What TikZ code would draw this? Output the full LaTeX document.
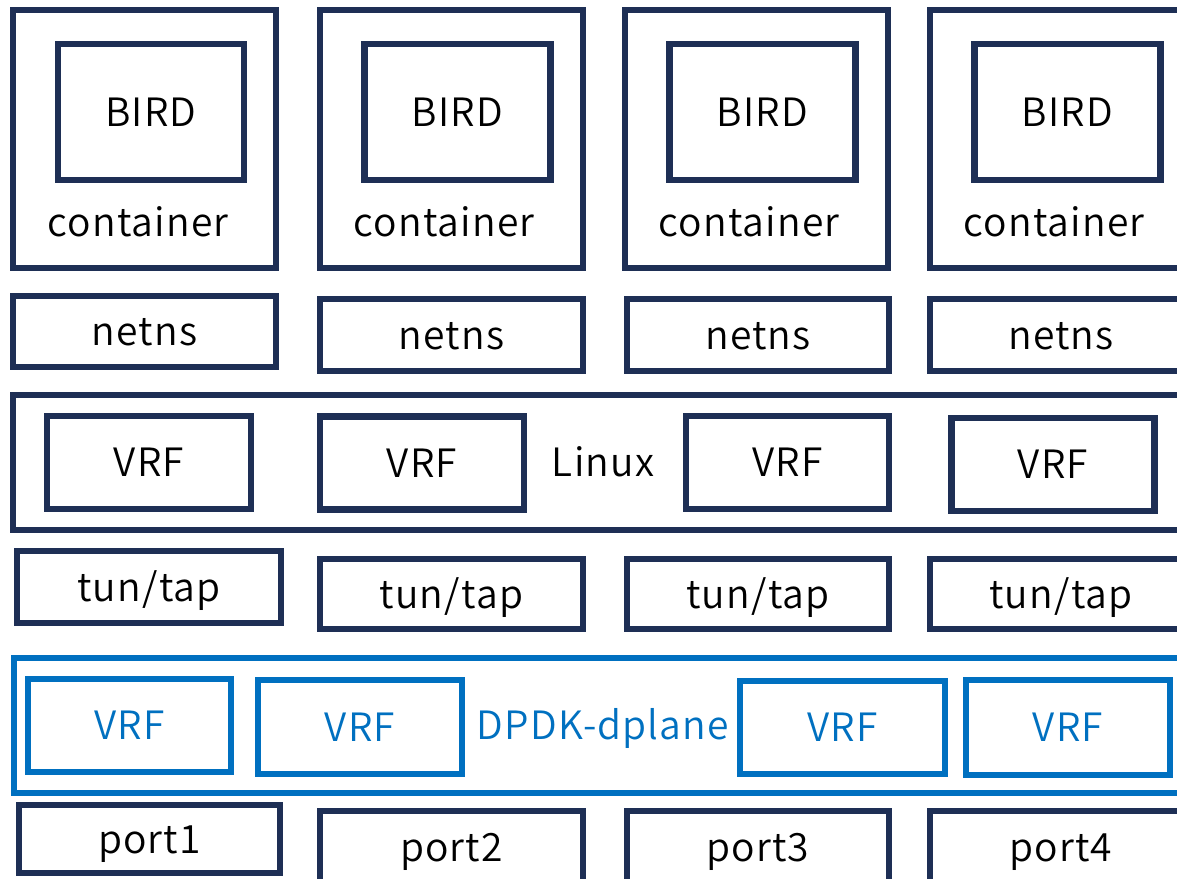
\documentclass[tikz,border=0pt]{standalone}
\usepackage{fontspec}
\setmainfont[LetterSpace=3]{Noto Sans CJK JP DemiLight}
\definecolor{navy}{HTML}{1E2F55}
\definecolor{dblue}{HTML}{0070C0}
\tikzset{
  txt/.style={inner sep=0pt, text height=35pt, text depth=7pt, font=\fontsize{39}{44}\selectfont},
  nbox/.style={txt, draw=navy, line width=6.5pt, rectangle, text=black},
  bbox/.style={txt, draw=dblue, line width=6.5pt, rectangle, text=dblue},
  lbl/.style={txt, text=black},
}
\begin{document}
\begin{tikzpicture}[x=1pt,y=-1pt]
\useasboundingbox (0,0) rectangle (1177,878);
\clip (0,0) rectangle (1177,878);
% containers
\foreach \i/\cx/\bx/\lx in {1/144.5/151/138, 2/451.5/457.5/444, 3/756.5/762.5/749, 4/1061.5/1067.5/1054}{
  \node[nbox, minimum width=263pt, minimum height=258pt] (cont\i) at (\cx,139) {};
  \node[nbox, minimum width=186pt, minimum height=136pt] (bird\i) at (\bx,112) {BIRD};
  \node[lbl] (clbl\i) at (\lx,222) {container};
}
% netns
\node[nbox, minimum width=263pt, minimum height=71pt] (netns1) at (144.5,331.5) {netns};
\node[nbox, minimum width=263pt, minimum height=72pt] (netns2) at (451.5,335) {netns};
\node[nbox, minimum width=262pt, minimum height=72pt] (netns3) at (758,335) {netns};
\node[nbox, minimum width=262pt, minimum height=72pt] (netns4) at (1061,335) {netns};
% Linux
\node[nbox, minimum width=1182pt, minimum height=135pt] (linux) at (604,462.5) {};
\node[lbl] (linuxlbl) at (603,462) {Linux};
\node[nbox, minimum width=204pt, minimum height=93pt] (lvrf1) at (149,462.5) {VRF};
\node[nbox, minimum width=204pt, minimum height=93pt] (lvrf2) at (422,463) {VRF};
\node[nbox, minimum width=203pt, minimum height=93pt] (lvrf3) at (787.5,462.5) {VRF};
\node[nbox, minimum width=203pt, minimum height=93pt] (lvrf4) at (1053,464.5) {VRF};
% tun/tap
\node[nbox, minimum width=264pt, minimum height=72pt] (tap1) at (149,587) {tun/tap};
\node[nbox, minimum width=263pt, minimum height=70pt] (tap2) at (451.5,594) {tun/tap};
\node[nbox, minimum width=262pt, minimum height=70pt] (tap3) at (758,594) {tun/tap};
\node[nbox, minimum width=262pt, minimum height=70pt] (tap4) at (1061,594) {tun/tap};
% DPDK
\node[bbox, minimum width=1180pt, minimum height=135pt] (dpdk) at (604,725.5) {};
\node[lbl, text=dblue] (dpdklbl) at (603,725) {DPDK-dplane};
\node[bbox, minimum width=203pt, minimum height=93pt] (dvrf1) at (129.5,725.5) {VRF};
\node[bbox, minimum width=204pt, minimum height=94pt] (dvrf2) at (360,727) {VRF};
\node[bbox, minimum width=205pt, minimum height=93pt] (dvrf3) at (842.5,727.5) {VRF};
\node[bbox, minimum width=204pt, minimum height=95pt] (dvrf4) at (1068,727.5) {VRF};
% ports
\node[nbox, minimum width=261pt, minimum height=68pt] (port1) at (149.5,839) {port1};
\node[nbox, minimum width=263pt, minimum height=72pt] (port2) at (451.5,847) {port2};
\node[nbox, minimum width=262pt, minimum height=72pt] (port3) at (758,847) {port3};
\node[nbox, minimum width=262pt, minimum height=72pt] (port4) at (1061,847) {port4};
\end{tikzpicture}
\end{document}
